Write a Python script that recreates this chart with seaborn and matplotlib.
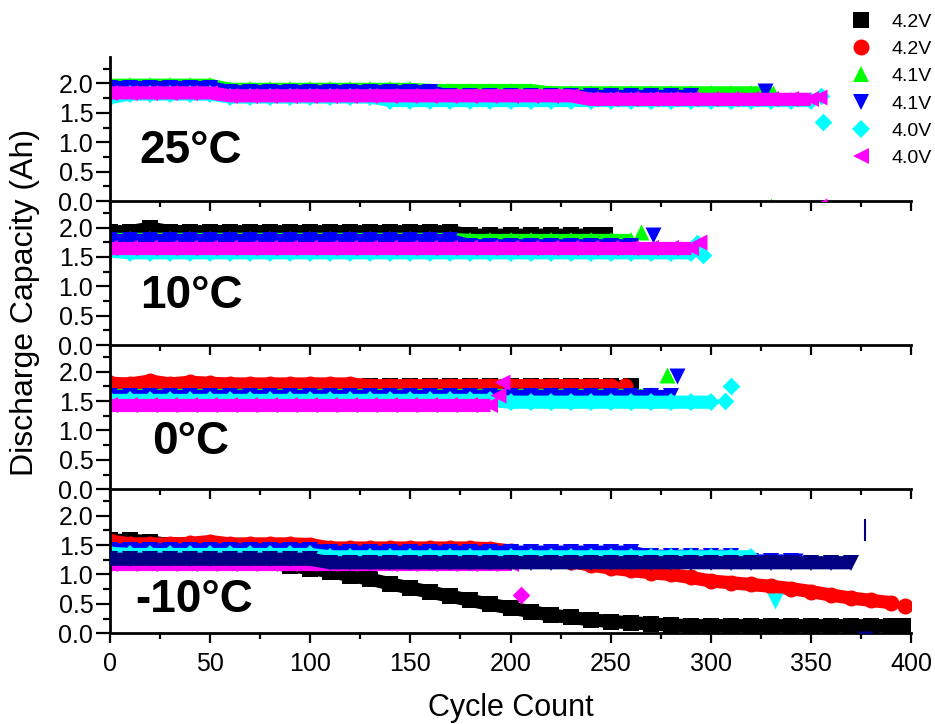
import matplotlib
matplotlib.use("Agg")
import matplotlib.pyplot as plt
from matplotlib.lines import Line2D
from matplotlib.ticker import MultipleLocator, FormatStrFormatter
import pandas as pd
import seaborn as sns

sns.set_theme(style="white")
plt.rcParams["font.family"] = ["Liberation Sans", "DejaVu Sans"]
for key in ("text.color", "axes.labelcolor", "xtick.color", "ytick.color"):
    plt.rcParams[key] = "black"

# ---------------- data ----------------
CYCLES = [0, 10, 20, 30, 40, 50, 60, 70, 80, 90, 100, 110, 120, 130, 140, 150,
          160, 170, 180, 190, 200, 210, 220, 230, 240, 250, 260, 270, 280, 290,
          300, 310, 320, 330, 340, 350, 360, 370, 380, 390, 400]

TEMPS = ["25°C", "10°C", "0°C", "-10°C"]
SERIES = ["black", "red", "green", "blue", "cyan", "magenta", "navy"]
LEGEND_LABELS = ["4.2V", "4.2V", "4.1V", "4.1V", "4.0V", "4.0V"]

# 25 °C
t25_black = []
t25_red = []
t25_green = [1.97, 1.97, 1.97, 1.97, 1.97, 1.97, 1.90, 1.90, 1.90, 1.90, 1.90, 1.90,
             1.90, 1.90, 1.90, 1.90, 1.88, 1.88, 1.88, 1.88, 1.88, 1.88, 1.84, 1.84,
             1.84, 1.84, 1.84, 1.84, 1.84, 1.84, 1.84, 1.84, 1.84, 1.84]
t25_blue = [1.93, 1.93, 1.93, 1.93, 1.93, 1.93, 1.86, 1.86, 1.86, 1.86, 1.86, 1.86,
            1.86, 1.86, 1.86, 1.86, 1.86, 1.78, 1.78, 1.78, 1.78, 1.78, 1.78, 1.78,
            1.78, 1.78, 1.78, 1.78, 1.78, 1.78]
t25_cyan = [1.76, 1.82, 1.82, 1.82, 1.82, 1.82, 1.77, 1.77, 1.77, 1.77, 1.77, 1.77,
            1.77, 1.77, 1.71, 1.71, 1.71, 1.71, 1.71, 1.71, 1.71, 1.71, 1.71, 1.71,
            1.71, 1.71, 1.71, 1.71, 1.71, 1.71, 1.71, 1.71, 1.71, 1.71, 1.71, 1.71]
t25_magenta = [1.84, 1.84, 1.84, 1.84, 1.84, 1.84, 1.79, 1.79, 1.79, 1.79, 1.79, 1.79,
               1.79, 1.79, 1.79, 1.79, 1.79, 1.79, 1.79, 1.79, 1.79, 1.79, 1.79, 1.79,
               1.73, 1.73, 1.73, 1.73, 1.73, 1.73, 1.73, 1.73, 1.73, 1.73, 1.73, 1.73]
t25_navy = []

# 10 °C
t10_black = [1.93, 1.93, 1.99, 1.93, 1.93, 1.93, 1.93, 1.93, 1.93, 1.93, 1.93, 1.93,
             1.93, 1.93, 1.93, 1.93, 1.93, 1.93, 1.87, 1.87, 1.87, 1.87, 1.87, 1.87, 1.87]
t10_red = []
t10_green = [1.80, 1.80, 1.80, 1.80, 1.80, 1.80, 1.80, 1.80, 1.80, 1.80, 1.80, 1.80,
             1.80, 1.80, 1.80, 1.80, 1.80, 1.80, 1.78, 1.78, 1.78, 1.78, 1.78, 1.78,
             1.78, 1.78, 1.78]
t10_blue = [1.78, 1.78, 1.78, 1.78, 1.78, 1.78, 1.78, 1.78, 1.78, 1.78, 1.78, 1.78,
            1.78, 1.78, 1.78, 1.78, 1.78, 1.78, 1.69, 1.69, 1.69, 1.69, 1.69, 1.69,
            1.69, 1.69, 1.69]
t10_cyan = [1.60, 1.57, 1.57, 1.57, 1.57, 1.57, 1.57, 1.57, 1.57, 1.57, 1.57, 1.57,
            1.57, 1.57, 1.57, 1.57, 1.57, 1.57, 1.57, 1.57, 1.57, 1.57, 1.57, 1.57,
            1.57, 1.57, 1.57, 1.57, 1.57, 1.57]
t10_magenta = [1.65, 1.65, 1.65, 1.65, 1.65, 1.65, 1.65, 1.65, 1.65, 1.65, 1.65, 1.65,
               1.65, 1.65, 1.65, 1.65, 1.65, 1.65, 1.65, 1.65, 1.65, 1.65, 1.65, 1.65,
               1.65, 1.65, 1.65, 1.65, 1.65, 1.65]
t10_navy = []

# 0 °C
t0_black = [1.76, 1.76, 1.76, 1.76, 1.76, 1.76, 1.76, 1.76, 1.76, 1.76, 1.76, 1.76,
            1.76, 1.76, 1.76, 1.76, 1.76, 1.76, 1.76, 1.76, 1.76, 1.76, 1.76, 1.76,
            1.76, 1.76, 1.76]
t0_red = [1.80, 1.79, 1.84, 1.79, 1.82, 1.80, 1.79, 1.79, 1.79, 1.79, 1.79, 1.79,
          1.79, 1.76, 1.76, 1.76, 1.76, 1.76, 1.76, 1.76, 1.76, 1.76, 1.76, 1.76,
          1.76, 1.76]
t0_green = [1.61, 1.61, 1.61, 1.61, 1.61, 1.61, 1.61, 1.61, 1.61, 1.61, 1.61, 1.61,
            1.61, 1.61, 1.61, 1.61, 1.61, 1.61, 1.61, 1.61, 1.61, 1.61, 1.61, 1.61,
            1.61, 1.61, 1.61, 1.61]
t0_blue = [1.58, 1.58, 1.58, 1.58, 1.58, 1.58, 1.58, 1.58, 1.58, 1.58, 1.58, 1.58,
           1.58, 1.58, 1.58, 1.58, 1.58, 1.58, 1.58, 1.58, 1.58, 1.58, 1.58, 1.58,
           1.58, 1.58, 1.58, 1.58, 1.58]
t0_cyan = [1.51, 1.51, 1.51, 1.51, 1.51, 1.51, 1.51, 1.51, 1.51, 1.51, 1.51, 1.51,
           1.51, 1.51, 1.51, 1.51, 1.51, 1.51, 1.51, 1.51, 1.48, 1.48, 1.48, 1.48,
           1.48, 1.48, 1.48, 1.48, 1.48, 1.48, 1.48]
t0_magenta = [1.44, 1.44, 1.44, 1.44, 1.44, 1.44, 1.44, 1.44, 1.44, 1.44, 1.44, 1.44,
              1.44, 1.44, 1.44, 1.44, 1.44, 1.44, 1.44, 1.44]
t0_navy = []

# -10 °C
tm10_black = [1.58, 1.58, 1.56, 1.50, 1.43, 1.37, 1.30, 1.24, 1.19, 1.15, 1.10, 1.05,
              0.98, 0.92, 0.84, 0.77, 0.70, 0.63, 0.56, 0.49, 0.43, 0.37, 0.31, 0.27,
              0.23, 0.20, 0.18, 0.16, 0.14, 0.13, 0.13, 0.13, 0.13, 0.13, 0.13, 0.13,
              0.13, 0.13, 0.13, 0.13]
tm10_red = [1.57, 1.52, 1.52, 1.52, 1.53, 1.56, 1.52, 1.52, 1.52, 1.52, 1.51, 1.45,
            1.45, 1.45, 1.45, 1.45, 1.45, 1.45, 1.45, 1.44, 1.40, 1.34, 1.28, 1.22,
            1.16, 1.11, 1.07, 1.03, 1.00, 0.95, 0.89, 0.86, 0.83, 0.80, 0.76, 0.71,
            0.65, 0.60, 0.56, 0.52]
tm10_green = []
tm10_blue = [1.42, 1.42, 1.42, 1.42, 1.42, 1.42, 1.42, 1.42, 1.42, 1.42, 1.42, 1.38,
             1.38, 1.38, 1.38, 1.38, 1.38, 1.38, 1.38, 1.38, 1.38, 1.38, 1.38, 1.38,
             1.38, 1.38, 1.38, 1.31, 1.31, 1.31, 1.31, 1.31, 1.23, 1.23, 1.23]
tm10_cyan = [1.36, 1.34, 1.34, 1.34, 1.34, 1.34, 1.34, 1.34, 1.34, 1.34, 1.34, 1.30,
             1.30, 1.30, 1.30, 1.30, 1.30, 1.30, 1.30, 1.30, 1.30, 1.30, 1.30, 1.30,
             1.30, 1.30, 1.30, 1.30, 1.30, 1.30, 1.30, 1.30, 1.30]
tm10_magenta = [1.17, 1.17, 1.17, 1.17, 1.17, 1.17, 1.17, 1.17, 1.17, 1.17, 1.17, 1.17,
                1.17, 1.17, 1.17, 1.17, 1.17, 1.17, 1.17, 1.17, 1.17]
tm10_navy = [1.26, 1.26, 1.26, 1.26, 1.26, 1.26, 1.26, 1.26, 1.26, 1.26, 1.26, 1.20,
             1.20, 1.20, 1.20, 1.20, 1.20, 1.20, 1.20, 1.20, 1.20, 1.20, 1.20, 1.20,
             1.20, 1.20, 1.20, 1.20, 1.20, 1.20, 1.20, 1.20, 1.20, 1.20, 1.20, 1.20,
             1.20, 1.20]

PANEL_DATA = [
    [t25_black, t25_red, t25_green, t25_blue, t25_cyan, t25_magenta, t25_navy],
    [t10_black, t10_red, t10_green, t10_blue, t10_cyan, t10_magenta, t10_navy],
    [t0_black, t0_red, t0_green, t0_blue, t0_cyan, t0_magenta, t0_navy],
    [tm10_black, tm10_red, tm10_green, tm10_blue, tm10_cyan, tm10_magenta, tm10_navy],
]

# last / stray single points: panel index, series, cycle, capacity, marker
pt_panel = [0, 0, 0, 0, 0, 0, 0,
            1, 1, 1, 1, 1, 1,
            2, 2, 2, 2, 2, 2, 2,
            3, 3, 3, 3, 3, 3, 3, 3]
pt_series = ["green", "blue", "magenta", "cyan", "cyan", "green", "magenta",
             "black", "green", "blue", "cyan", "cyan", "magenta",
             "red", "green", "blue", "cyan", "cyan", "magenta", "magenta",
             "black", "red", "blue", "magenta", "cyan", "navy", "navy", "blue"]
pt_cycle = [331, 327, 354, 355, 356, 330, 354,
            247, 265, 271, 293, 296, 294,
            257, 278, 283, 307, 310, 194, 196,
            396, 397, 342, 205, 332, 377, 377, 342]
pt_cap = [1.84, 1.87, 1.77, 1.78, 1.35, -0.09, -0.09,
          1.87, 1.92, 1.88, 1.73, 1.53, 1.75,
          1.76, 1.95, 1.93, 1.50, 1.75, 1.60, 1.83,
          0.13, 0.47, 1.23, 0.65, 0.55, 1.75, -0.09, -0.09]
pt_marker = ["^", "v", "<", "D", "D", "^", "<",
             "s", "^", "v", "D", "D", "<",
             "o", "^", "v", "D", "D", "<", "<",
             "s", "o", "v", "D", "v", "|", "v", "^"]

# ---------------- styles ----------------
COLORS = {"black": "#000000", "red": "#FF0000", "green": "#00FF00", "blue": "#0000FF",
          "cyan": "#00FFFF", "magenta": "#FF00FF", "navy": "#000080"}
MARKERS = {"black": "s", "red": "o", "green": "^", "blue": "v",
           "cyan": "D", "magenta": "<", "navy": "v"}
MS = 11.5
MS_D = 9.0
LW = 9.5

fig = plt.figure(figsize=(9.35, 7.24), dpi=100)
gs = fig.add_gridspec(4, 1, left=110 / 935, right=911 / 935,
                      top=1 - 57 / 724, bottom=1 - 633.3 / 724, hspace=0)
axes = [fig.add_subplot(gs[i]) for i in range(4)]

label_pos = [(0.037, 0.35), (0.037, 0.34), (0.053, 0.33), (0.031, 0.23)]

for p, ax in enumerate(axes):
    for k, key in enumerate(SERIES):
        vals = PANEL_DATA[p][k]
        z = 2 + 0.1 * k
        if vals:
            df = pd.DataFrame({"cycle": CYCLES[:len(vals)], "cap": vals})
            ms = MS_D if MARKERS[key] == "D" else MS
            sns.lineplot(data=df, x="cycle", y="cap", ax=ax, color=COLORS[key],
                         linewidth=LW, marker=MARKERS[key], markersize=ms,
                         markeredgewidth=0, estimator=None, sort=False,
                         legend=False, solid_capstyle="butt", zorder=z)
        for i in range(len(pt_panel)):
            if pt_panel[i] == p and pt_series[i] == key:
                mk = pt_marker[i]
                ms = MS_D if mk == "D" else MS
                if mk == "|":
                    ax.plot([pt_cycle[i]], [pt_cap[i]], marker="|", markersize=16,
                            markeredgewidth=1.5, color=COLORS[key], zorder=z)
                else:
                    sns.scatterplot(x=[pt_cycle[i]], y=[pt_cap[i]], ax=ax,
                                    color=COLORS[key], marker=mk, s=ms ** 2,
                                    linewidth=0, legend=False, zorder=z + 0.05)

    ax.set_xlim(0, 400)
    ax.set_ylim(0, 2.45)
    ax.xaxis.set_major_locator(MultipleLocator(50))
    ax.xaxis.set_minor_locator(MultipleLocator(25))
    ax.yaxis.set_major_locator(MultipleLocator(0.5))
    ax.yaxis.set_minor_locator(MultipleLocator(0.25))
    ax.yaxis.set_major_formatter(FormatStrFormatter("%.1f"))
    ax.set_xlabel("")
    ax.set_ylabel("")
    for s in ("top", "right"):
        ax.spines[s].set_visible(False)
    for s in ("left", "bottom"):
        ax.spines[s].set_linewidth(2)
        ax.spines[s].set_color("black")
    ax.tick_params(axis="y", which="major", direction="out", length=10, width=1.6,
                   labelsize=18, color="black", labelcolor="black", left=True, pad=2)
    ax.tick_params(axis="y", which="minor", direction="out", length=5, width=1.6,
                   color="black", left=True)
    ax.tick_params(axis="x", which="major", direction="out", length=7.5, width=1.6,
                   labelsize=18, color="black", labelcolor="black", bottom=True, pad=6)
    ax.tick_params(axis="x", which="minor", direction="out", length=4, width=1.6,
                   color="black", bottom=True)
    if p < 3:
        ax.tick_params(axis="x", labelbottom=False)
    ax.patch.set_alpha(0)
    ax.text(label_pos[p][0], label_pos[p][1], TEMPS[p], transform=ax.transAxes,
            fontsize=33, fontweight="bold", ha="left", va="center", zorder=10,
            color="black")

# upper panels on top so their outward ticks stay visible
for i, ax in enumerate(axes):
    ax.set_zorder(4 - i)

fig.text(0.027, 1 - 302 / 724, "Discharge Capacity (Ah)", rotation=90,
         ha="center", va="center", fontsize=23, color="black")
fig.text(510.5 / 935, 1 - 708 / 724, "Cycle Count", ha="center", va="center",
         fontsize=22, color="black")

handles = [Line2D([], [], color=COLORS[k], marker=MARKERS[k], linestyle="none",
                  markersize=(MS_D if MARKERS[k] == "D" else MS),
                  markeredgewidth=0)
           for k in SERIES[:6]]
fig.legend(handles, LEGEND_LABELS, loc="upper left",
           bbox_to_anchor=(851 / 935, 1 - 13 / 724), frameon=False, fontsize=14,
           labelspacing=0.5, handlelength=1.0, handletextpad=1.1,
           borderpad=0, borderaxespad=0, labelcolor="black")

fig.savefig("out.png", dpi=100)
